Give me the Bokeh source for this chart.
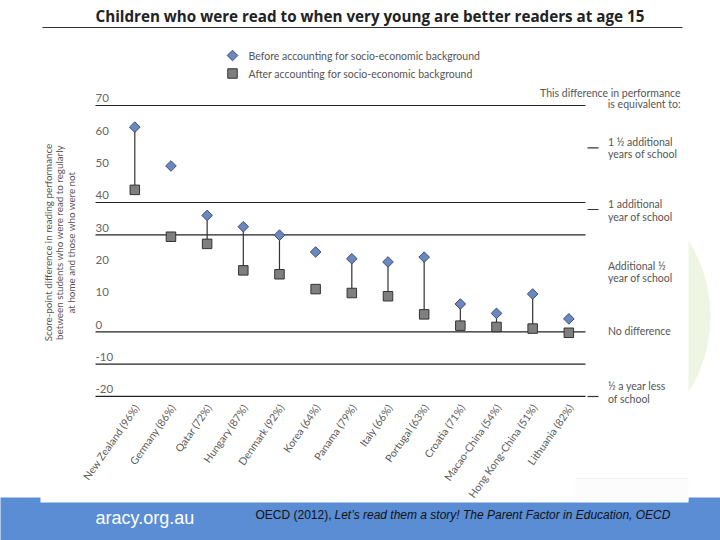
import math
from bokeh.plotting import figure
from bokeh.models import Range1d
from bokeh.embed import file_html
from bokeh.resources import INLINE
from bokeh.core.properties import value

# ---------------- data ----------------
countries = ["New Zealand (96%)", "Germany (86%)", "Qatar (72%)", "Hungary (87%)",
             "Denmark (92%)", "Korea (64%)", "Panama (79%)", "Italy (66%)",
             "Portugal (63%)", "Croatia (71%)", "Macao-China (54%)",
             "Hong Kong-China (51%)", "Lithuania (82%)"]
before = [63.3, 51.3, 36.0, 32.5, 29.9, 24.7, 22.6, 21.6, 23.1, 8.6, 5.7, 11.7, 4.0]
after = [43.9, 29.4, 27.2, 19.0, 17.8, 13.2, 12.0, 11.0, 5.4, 1.9, 1.5, 1.0, -0.3]
connected = [True, False, True, True, True, False, True, True, True, True, True, True, False]
y_ticks = [70, 60, 50, 40, 30, 20, 10, 0, -10, -20]
grid_values = [70, 40, 30, 0, -10, -20]
equiv_lines = [["1 \u00bd additional", "years of school"],
               ["1 additional", "year of school"],
               ["Additional \u00bd", "year of school"],
               ["No difference"],
               ["\u00bd a year less", "of school"]]
title_text = "Children who were read to when very young are better readers at age 15"
legend_labels = ["Before accounting for socio-economic background",
                 "After accounting for socio-economic background"]
ytitle_lines = ["Score-point difference in reading performance",
                "between students who were read to regularly",
                "at home and those who were not"]

# ---------------- layout helpers (reference pixel -> data) ----------------
X0, SX = 134.3, 36.17
Y0, SY = 331.3, 3.233
def dx(px):
    return (px - X0) / SX
def dy(py):
    return (Y0 - py) / SY

BODY = value("Lato")
TXT = "#555555"
W, H = 720, 540
p = figure(width=W, height=H, x_range=Range1d(dx(0), dx(W)), y_range=Range1d(dy(H), dy(0)),
           output_backend="svg", toolbar_location=None, min_border=0,
           x_axis_location=None, y_axis_location=None)
p.outline_line_color = None
p.grid.visible = False
p.background_fill_color = "white"
p.border_fill_color = "white"

# slide decorations
p.quad(left=dx(-5), right=dx(730), top=dy(497), bottom=dy(545), fill_color="#5a8dd4", line_color=None)
p.scatter(x=[dx(568)], y=[dy(316)], size=284, marker="circle", fill_color="#eef5e2", line_color=None)
p.quad(left=dx(40), right=dx(688), top=dy(-5), bottom=dy(502), fill_color="white", line_color=None)
p.quad(left=dx(575), right=dx(688), top=dy(478), bottom=dy(500), fill_color="#fcfcfc", line_color=None)
p.segment(x0=[dx(575)], x1=[dx(688)], y0=[dy(478)], y1=[dy(478)], line_color="#f3f3f3", line_width=1)

# title and rule
p.text(x=[dx(95)], y=[dy(15)], text=[title_text], text_font=value("Open Sans"), text_font_style="bold",
       text_font_size="15.2px", text_color="#222222", text_baseline="middle", text_align="left")
p.segment(x0=[dx(42)], x1=[dx(682)], y0=[dy(27)], y1=[dy(27)], line_color="#333333", line_width=1.2)

# legend
p.scatter(x=[dx(232)], y=[dy(55)], marker="square", angle=math.pi / 4, size=7.5,
          fill_color="#6b87bb", line_color="#3b4f7f")
p.scatter(x=[dx(232)], y=[dy(73)], marker="square", size=9.5, fill_color="#7f7f7f", line_color="#333333")
p.text(x=[dx(248), dx(248)], y=[dy(55), dy(73)], text=legend_labels, text_font=BODY,
       text_font_size="10.5px", text_color=TXT, text_baseline="middle")

# header on right
p.text(x=[dx(680), dx(680)], y=[dy(92), dy(103)],
       text=["This difference in performance", "is equivalent to:"], text_font=BODY,
       text_font_size="10.5px", text_color=TXT, text_baseline="middle", text_align="right")

# grid lines
n = len(grid_values)
p.segment(x0=[dx(95)] * n, x1=[dx(585)] * n, y0=grid_values, y1=grid_values,
          line_color="#222222", line_width=1.2)

# y tick labels (sit above their value)
p.text(x=[dx(95)] * len(y_ticks), y=y_ticks, text=[str(v) for v in y_ticks], text_font=BODY,
       text_font_size="11.5px", text_color="#666666", text_baseline="middle", y_offset=-7)

# y title
p.text(x=[dx(47), dx(58.5), dx(70)], y=[dy(242)] * 3, text=ytitle_lines, angle=math.pi / 2,
       text_font=BODY, text_font_size="9.8px", text_color=TXT,
       text_align="center", text_baseline="middle")

# connectors
idx = list(range(len(countries)))
cx = [i for i, c in zip(idx, connected) if c]
cb = [b for b, c in zip(before, connected) if c]
ca = [a for a, c in zip(after, connected) if c]
p.segment(x0=cx, x1=cx, y0=cb, y1=ca, line_color="#333333", line_width=1.2)

# markers
p.scatter(x=idx, y=after, marker="square", size=9.5, fill_color="#7f7f7f", line_color="#333333")
p.scatter(x=idx, y=before, marker="square", angle=math.pi / 4, size=7.5,
          fill_color="#6b87bb", line_color="#3b4f7f")

# category labels
p.text(x=idx, y=[dy(405)] * len(idx), text=countries, angle=math.radians(55), x_offset=2,
       text_font=BODY, text_font_size="10.5px", text_color="#5a5a5a",
       text_align="right", text_baseline="middle")

# equivalence annotations
eq_y = [[141.7, 153.3], [203.3, 216.0], [265.0, 277.3], [330.7], [385.3, 398.3]]
ex, ey, et = [], [], []
for lines, ys in zip(equiv_lines, eq_y):
    for t, yy in zip(lines, ys):
        ex.append(dx(607.5)); ey.append(dy(yy)); et.append(t)
p.text(x=ex, y=ey, text=et, text_font=BODY, text_font_size="10.5px", text_color=TXT,
       text_baseline="middle")
tick_y = [dy(147.3), dy(209), dy(396)]
p.segment(x0=[dx(587)] * 3, x1=[dx(598)] * 3, y0=tick_y, y1=tick_y, line_color="#333333", line_width=1.2)

# footer
p.text(x=[dx(95)], y=[dy(517)], text=["aracy.org.au"], text_font=value("Liberation Sans"),
       text_font_size="18px", text_color="white", text_baseline="middle")
p.text(x=[dx(255)], y=[dy(514)], text=["OECD (2012), "], text_font=value("Liberation Sans"),
       text_font_size="12px", text_color="#111111", text_baseline="middle")
p.text(x=[dx(334)], y=[dy(514)], text=["Let\u2019s read them a story! The Parent Factor in Education, OECD"],
       text_font=value("Liberation Sans"), text_font_style="italic",
       text_font_size="12px", text_color="#111111", text_baseline="middle")

open("out.html", "w").write(file_html(p, INLINE))
